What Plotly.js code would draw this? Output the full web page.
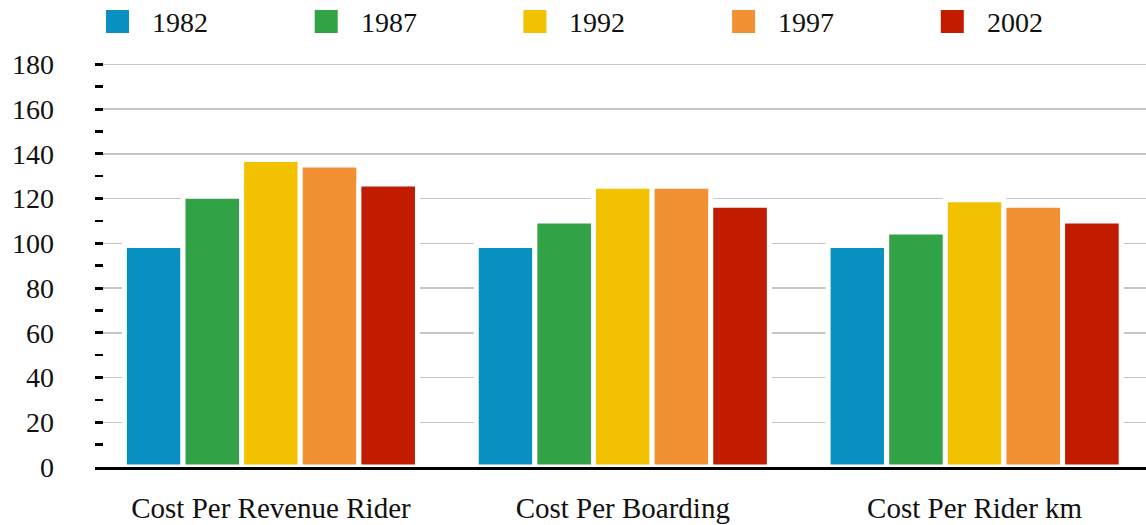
<!DOCTYPE html>
<html>
<head>
<meta charset="utf-8">
<script src="https://cdn.plot.ly/plotly-3.0.1.min.js"></script>
<style>
  html, body { margin: 0; padding: 0; background: #ffffff; }
  #chart { width: 1146px; height: 525px; }
</style>
</head>
<body>
<div id="chart"></div>
<script>
// Cost index by measure, one series per year
const categories = ['Cost Per Revenue Rider', 'Cost Per Boarding', 'Cost Per Rider km'];
const years = ['1982', '1987', '1992', '1997', '2002'];
const values1982 = [99, 99, 99];
const values1987 = [121, 110, 105];
const values1992 = [137.5, 125.5, 119.5];
const values1997 = [135, 125.5, 117];
const values2002 = [126.5, 117, 110];
const yTickValues = [0, 20, 40, 60, 80, 100, 120, 140, 160, 180];

const seriesValues = [values1982, values1987, values1992, values1997, values2002];
const colors = ['#0890c3', '#31a245', '#f2c100', '#f29034', '#c21c00'];

const FONT = 'Liberation Serif, DejaVu Serif, serif';
const INK = '#111111';

const traces = years.map((yr, i) => ({
  type: 'bar',
  name: yr,
  x: categories,
  y: seriesValues[i],
  marker: { color: colors[i], line: { color: '#ffffff', width: 5 } },
  hoverinfo: 'x+y+name'
}));

// Legend drawn as squares and labels above the plot
const plotLeft = 95, plotWidth = 1051, plotTop = 61, plotHeight = 406;
const yMax = 181.5;
const px2x = p => (p - plotLeft) / plotWidth;
const px2y = p => (plotTop + plotHeight - p) / plotHeight;
const legendStart = 106, legendStep = 208.7, squareSize = 23, squareTop = 10;

const shapes = years.map((yr, i) => ({
  type: 'rect', xref: 'paper', yref: 'paper',
  x0: px2x(legendStart + i * legendStep),
  x1: px2x(legendStart + i * legendStep + squareSize),
  y0: px2y(squareTop + squareSize),
  y1: px2y(squareTop),
  fillcolor: colors[i], line: { width: 0 }
}));

const annotations = years.map((yr, i) => ({
  xref: 'paper', yref: 'paper',
  x: px2x(legendStart + i * legendStep + 44),
  y: px2y(squareTop + squareSize / 2 + 1),
  xanchor: 'left', yanchor: 'middle',
  text: yr, showarrow: false,
  font: { family: FONT, size: 28, color: INK }
}));

const layout = {
  width: 1146, height: 525,
  margin: { l: plotLeft, r: 1146 - plotLeft - plotWidth, t: plotTop, b: 525 - plotTop - plotHeight, pad: 0 },
  paper_bgcolor: '#ffffff', plot_bgcolor: '#ffffff',
  barmode: 'group', bargap: 0.167, bargroupgap: 0,
  showlegend: false,
  font: { family: FONT, color: INK },
  xaxis: {
    type: 'category',
    range: [-0.5, 2.487],
    showline: true, linecolor: '#000000', linewidth: 3,
    showgrid: false, zeroline: false,
    ticks: '',
    tickfont: { family: FONT, size: 29, color: INK },
    ticklabelstandoff: 13
  },
  yaxis: {
    range: [0, yMax],
    tickvals: yTickValues,
    ticktext: yTickValues.map(String),
    showgrid: true, gridcolor: '#c6c6c6', gridwidth: 1.5,
    zeroline: false, showline: false,
    ticks: 'inside', ticklen: 8, tickwidth: 3, tickcolor: '#000000',
    minor: { dtick: 10, ticks: 'inside', ticklen: 8, tickwidth: 2.5, tickcolor: '#000000', showgrid: false },
    tickfont: { family: FONT, size: 28, color: INK },
    ticklabelstandoff: 40
  },
  shapes: shapes,
  annotations: annotations
};

Plotly.newPlot('chart', traces, layout, { displayModeBar: false, staticPlot: true });
</script>
</body>
</html>
